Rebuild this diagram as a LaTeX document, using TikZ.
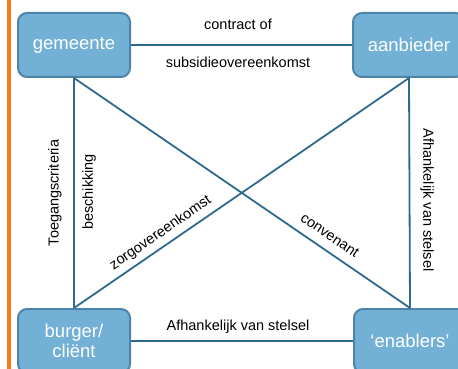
\documentclass[tikz,border=0pt]{standalone}
\usepackage{fontspec}
\setmainfont{Liberation Sans}
\definecolor{boxfill}{HTML}{72B0D6}
\definecolor{boxdraw}{HTML}{4E84A8}
\definecolor{linecol}{HTML}{2E6A8E}
\definecolor{orangebar}{HTML}{F47B20}
\tikzset{
  actor/.style={draw=boxdraw, line width=2pt, fill=boxfill, rounded corners=9pt,
    minimum width=112pt, minimum height=64pt, text=white, align=center,
    font=\fontsize{18.5}{22}\selectfont, inner sep=0pt},
  link/.style={draw=linecol, line width=1.8pt},
  lbl/.style={font=\fontsize{14.5}{17}\selectfont, text=black, inner sep=0pt}
}
\begin{document}
\begin{tikzpicture}[x=1pt,y=-1pt]
\useasboundingbox (0,0) rectangle (458,369);
\clip (0,0) rectangle (458,369);
\draw[orangebar, line width=4pt] (9,-5) -- (9,375);
\node[actor] (gem) at (74,45) {gemeente};
\node[actor] (aan) at (409,45) {aanbieder};
\node[actor] (bur) at (74,341) {burger/\\[-2pt]cliënt};
\node[actor] (ena) at (410,341) {‘enablers’};
\draw[link] (gem.east) -- (aan.west);
\draw[link] (bur.east) -- (ena.west);
\draw[link] (gem.south) -- (bur.north);
\draw[link] (aan.south) -- (ena.north);
\draw[link] (gem.south) -- node[lbl, pos=0.737, sloped, above=9pt] {convenant} (ena.north);
\draw[link] (aan.south) -- node[lbl, pos=0.72, sloped, above=5pt] {zorgovereenkomst} (bur.north);
\node[lbl] (l1) at (238,24) {contract of};
\node[lbl] (l2) at (238,62) {subsidieovereenkomst};
\node[lbl] (l3) at (238,327) {Afhankelijk van stelsel};
\node[lbl, rotate=90] (l4) at (55,193) {Toegangscriteria};
\node[lbl, rotate=90] (l5) at (89,192) {beschikking};
\node[lbl, rotate=-90] (l6) at (427,200) {Afhankelijk van stelsel};
\end{tikzpicture}
\end{document}
